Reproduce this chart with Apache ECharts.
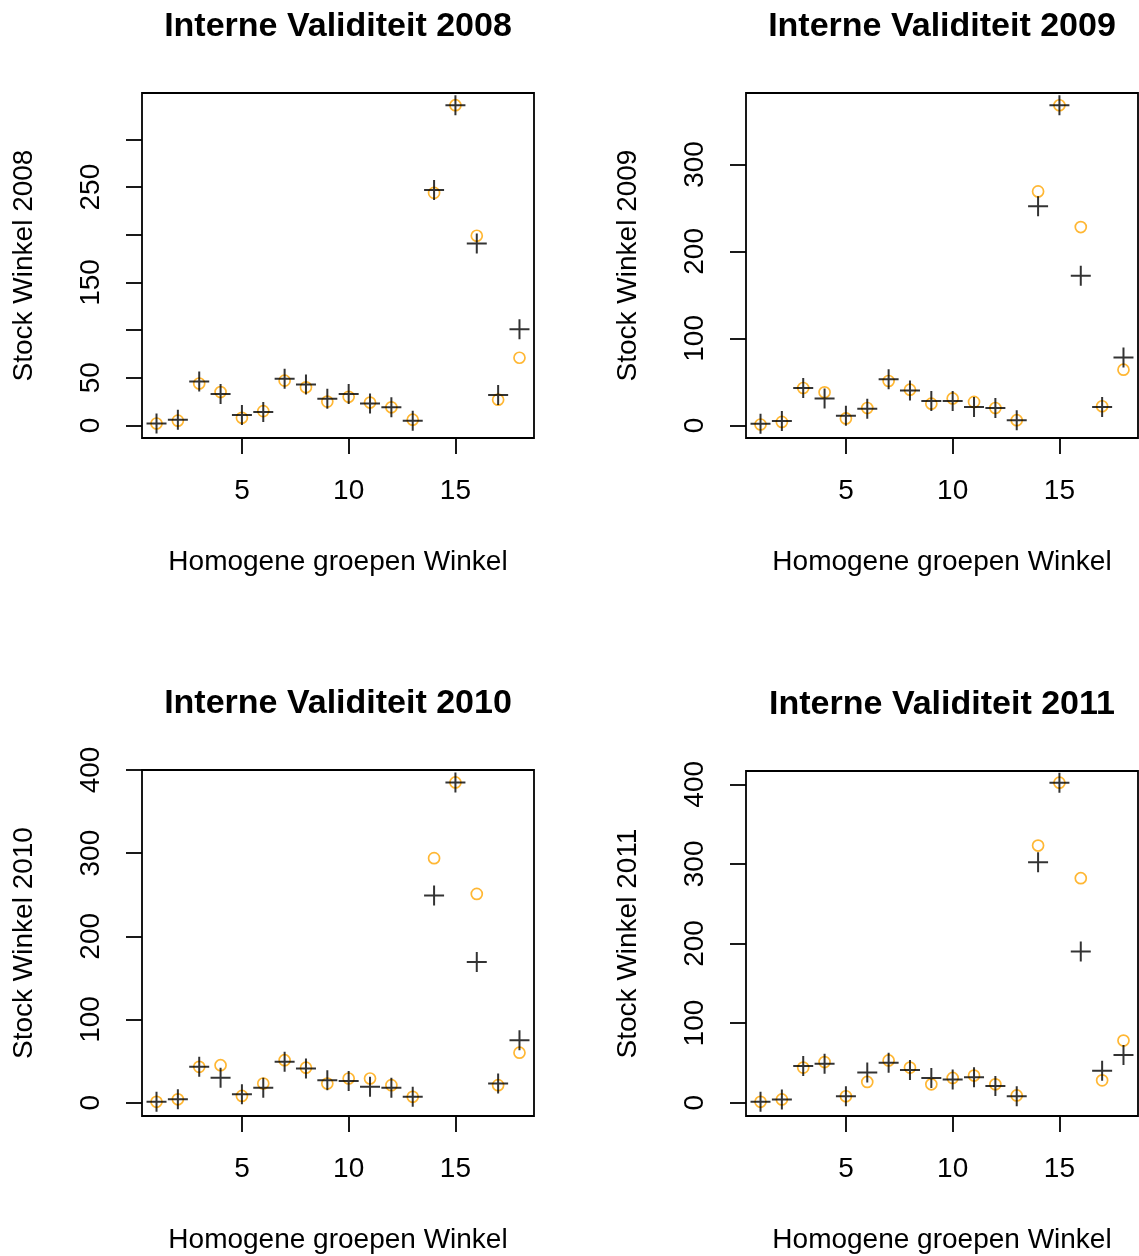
<!DOCTYPE html>
<html>
<head>
<meta charset="utf-8">
<script src="https://cdn.jsdelivr.net/npm/echarts@6/dist/echarts.min.js"></script>
<style>
html, body { margin: 0; padding: 0; background: #fff; }
#chart { width: 1139px; height: 1256px; }
</style>
</head>
<body>
<div id="chart"></div>
<script>
// ---- data ----
const groups = [1, 2, 3, 4, 5, 6, 7, 8, 9, 10, 11, 12, 13, 14, 15, 16, 17, 18];

const circles2008 = [2, 5, 44, 35, 8, 15, 47, 40, 25, 30, 24, 19, 6, 244, 336, 199, 27, 71];
const crosses2008 = [2, 6, 46, 33, 11, 14, 49, 43, 28, 33, 23, 19, 5, 247, 336, 191, 32, 101];

const circles2009 = [1, 4, 43, 38, 8, 20, 51, 41, 25, 31, 27, 20, 6, 269, 368, 228, 22, 64];
const crosses2009 = [2, 5, 43, 31, 11, 19, 53, 40, 28, 28, 21, 20, 6, 252, 368, 172, 21, 78];

const circles2010 = [1, 4, 43, 45, 8, 23, 51, 42, 23, 29, 29, 21, 7, 294, 385, 251, 21, 60];
const crosses2010 = [1, 4, 43, 30, 10, 18, 49, 41, 27, 26, 19, 18, 7, 249, 385, 169, 23, 75];

const circles2011 = [1, 4, 44, 51, 8, 26, 53, 44, 23, 31, 34, 23, 9, 323, 402, 282, 28, 78];
const crosses2011 = [1, 4, 46, 49, 8, 38, 50, 41, 31, 29, 32, 21, 8, 302, 402, 190, 40, 60];

const titles = ['Interne Validiteit 2008', 'Interne Validiteit 2009', 'Interne Validiteit 2010', 'Interne Validiteit 2011'];
const yNames = ['Stock Winkel 2008', 'Stock Winkel 2009', 'Stock Winkel 2010', 'Stock Winkel 2011'];
const xName = 'Homogene groepen Winkel';

const xTicks = [5, 10, 15];
const yTicks2008 = [0, 50, 100, 150, 200, 250, 300];
const yLabels2008 = [0, 50, 150, 250];
const yTicks2009 = [0, 100, 200, 300];
const yTicks2010 = [0, 100, 200, 300, 400];
const yTicks2011 = [0, 100, 200, 300, 400];

// ---- layout / style ----
const FONT = '"Liberation Sans", Arial, Helvetica, sans-serif';
const panels = [
  { grid: { left: 142, top: 93, width: 392, height: 345 }, yRange: [-13.2, 348.8], yTicks: yTicks2008, yLabels: yLabels2008, circles: circles2008, crosses: crosses2008 },
  { grid: { left: 746, top: 93, width: 392, height: 345 }, yRange: [-14.5, 382.1], yTicks: yTicks2009, yLabels: yTicks2009, circles: circles2009, crosses: crosses2009 },
  { grid: { left: 142, top: 770, width: 392, height: 346 }, yRange: [-16.1, 400.0], yTicks: yTicks2010, yLabels: yTicks2010, circles: circles2010, crosses: crosses2010 },
  { grid: { left: 746, top: 771, width: 392, height: 345 }, yRange: [-16.8, 416.7], yTicks: yTicks2011, yLabels: yTicks2011, circles: circles2011, crosses: crosses2011 }
];

const PLUS = 'path://M9,0 h2 v9 h9 v2 h-9 v9 h-2 v-9 h-9 v-2 h9 z';

const option = {
  backgroundColor: '#ffffff',
  animation: false,
  title: [],
  grid: [],
  xAxis: [],
  yAxis: [],
  series: []
};

panels.forEach((p, i) => {
  const g = p.grid;
  option.grid.push(Object.assign({
    show: true, backgroundColor: 'transparent', borderColor: '#000', borderWidth: 1.8, containLabel: false
  }, g));
  option.title.push({
    text: titles[i],
    left: g.left + g.width / 2,
    top: g.top - 83,
    textAlign: 'center',
    padding: 0,
    textStyle: { fontFamily: FONT, fontSize: 34, fontWeight: 'bold', color: '#000' }
  });
  option.xAxis.push({
    type: 'value', gridIndex: i, min: 0.32, max: 18.68,
    name: xName, nameLocation: 'middle', nameGap: 110,
    nameTextStyle: { fontFamily: FONT, fontSize: 28, color: '#000' },
    axisLine: { show: false, onZero: false },
    axisTick: { show: true, length: 16, customValues: xTicks, lineStyle: { color: '#000', width: 1.8 } },
    axisLabel: { show: true, customValues: xTicks, margin: 39, fontFamily: FONT, fontSize: 28, color: '#000' },
    splitLine: { show: false }
  });
  option.yAxis.push({
    type: 'value', gridIndex: i, min: p.yRange[0], max: p.yRange[1],
    name: yNames[i], nameLocation: 'middle', nameGap: 104, nameRotate: 90,
    nameTextStyle: { fontFamily: FONT, fontSize: 28, color: '#000' },
    axisLine: { show: false, onZero: false },
    axisTick: { show: true, length: 16, customValues: p.yTicks, lineStyle: { color: '#000', width: 1.8 } },
    axisLabel: { show: true, rotate: 90, customValues: p.yLabels, margin: 37, fontFamily: FONT, fontSize: 28, color: '#000' },
    splitLine: { show: false }
  });
  option.series.push({
    type: 'scatter', xAxisIndex: i, yAxisIndex: i,
    data: groups.map((x, k) => [x, p.circles[k]]),
    symbol: 'circle', symbolSize: 11,
    itemStyle: { color: 'rgba(0,0,0,0)', borderColor: '#FFA500', borderWidth: 1.7 },
    emphasis: { disabled: true }
  });
  option.series.push({
    type: 'scatter', xAxisIndex: i, yAxisIndex: i,
    data: groups.map((x, k) => [x, p.crosses[k]]),
    symbol: PLUS, symbolSize: 20,
    itemStyle: { color: '#000' },
    emphasis: { disabled: true }
  });
});

const chart = echarts.init(document.getElementById('chart'));
chart.setOption(option);
</script>
</body>
</html>
